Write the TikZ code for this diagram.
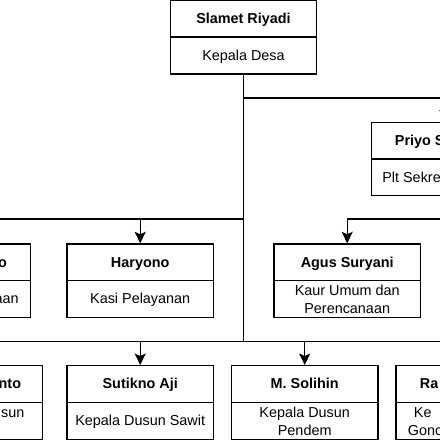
\documentclass[tikz,border=0pt]{standalone}
\usepackage{fontspec}
\setmainfont{Liberation Sans}
\usetikzlibrary{arrows.meta}
\begin{document}
\begin{tikzpicture}[x=1pt,y=-1pt,
  line width=1.3pt,
  half/.style={draw, rectangle, minimum width=146.3pt, minimum height=36.8pt, inner sep=0pt,
    font=\fontsize{14.4}{18}\selectfont},
  namebox/.style={half, font=\fontsize{14.4}{18}\selectfont\bfseries, text height=10.6pt, text depth=1.2pt},
  rolebox/.style={half, text height=10.6pt, text depth=1.2pt},
  role2box/.style={half, align=center},
  frag/.style={inner sep=0pt, font=\fontsize{14.4}{18}\selectfont, text height=10.6pt, text depth=1.2pt},
  fragb/.style={frag, font=\fontsize{14.4}{18}\selectfont\bfseries},
  arr/.style={-{Stealth[length=11.5pt,width=11pt,inset=2.5pt]}}
]
\useasboundingbox (0,0) rectangle (440,440);
\clip (0,0) rectangle (440,440);
% top box
\node[namebox] (slametN) at (243.5,18.7) {Slamet Riyadi};
\node[rolebox] (slamet) at (243.5,55.5) {Kepala Desa};
% secretary
\node[namebox] (priyoN) at (444.8,140.7) {};
\node[half] (priyo) at (444.8,177.4) {};
\node[fragb, anchor=west] (priyoT) at (394.3,140.7) {Priyo S};
\node[frag, anchor=west] (priyoR) at (381.7,177.4) {Plt Sekre};
% row 2
\node[namebox] (aN) at (-42.45,262.35) {};
\node[half] (a) at (-42.45,299.15) {};
\node[fragb, anchor=east] (aT) at (7.5,262.35) {o};
\node[frag, anchor=east] (aR) at (19.3,299.15) {aan};
\node[namebox] (haryonoN) at (140.2,262.35) {Haryono};
\node[rolebox] (haryono) at (140.2,299.15) {Kasi Pelayanan};
\node[namebox] (agusN) at (347.2,262.35) {Agus Suryani};
\node[role2box] (agus) at (347.2,299.15) {Kaur Umum dan\\Perencanaan};
% row 3
\node[namebox] (bN) at (-30.85,384.1) {};
\node[half] (b) at (-30.85,420.9) {};
\node[fragb, anchor=east] (bT) at (21.7,384.1) {nto};
\node[frag, anchor=base east] (bR) at (25,417.05) {usun};
\node[namebox] (sutiknoN) at (140.2,384.1) {Sutikno Aji};
\node[rolebox] (sutikno) at (140.2,420.9) {Kepala Dusun Sawit};
\node[namebox] (solihinN) at (304.7,384.1) {M. Solihin};
\node[role2box] (solihin) at (304.7,420.9) {Kepala Dusun\\Pendem};
\node[namebox] (cN) at (469.15,384.1) {};
\node[half] (c) at (469.15,420.9) {};
\node[fragb, anchor=west] (cT) at (419.3,384.1) {Ra};
\node[frag, anchor=base west] (cR1) at (413.3,417.05) {Ke};
\node[frag, anchor=base west] (cR2) at (407.3,435.05) {Gonc};
% junctions
\coordinate (j1) at (243.5,98);
\coordinate (j2) at (243.5,219);
\coordinate (j3) at (243.5,341.7);
\coordinate (j4) at (444.8,219);
% connectors
\draw (slamet.south) -- (j3);
\draw[arr] (j1) -| (priyoN.north);
\draw[arr] (j2) -| (haryonoN.north);
\draw[arr] (j2) -| (aN.north);
\draw (priyo.south) -- (j4);
\draw[arr] (j4) -| (agusN.north);
\draw[arr] (j3) -| (sutiknoN.north);
\draw[arr] (j3) -| (bN.north);
\draw[arr] (j3) -| (solihinN.north);
\draw[arr] (j3) -| (cN.north);
\end{tikzpicture}
\end{document}
